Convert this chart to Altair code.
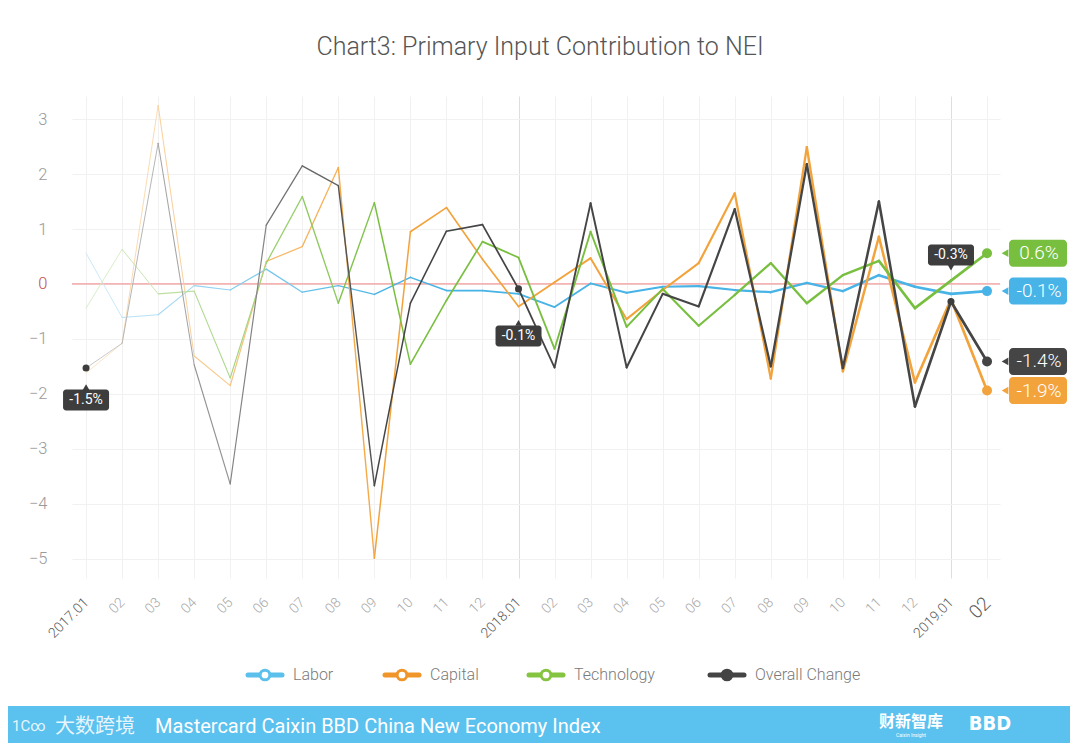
import altair as alt
import pandas as pd

# ---------------- data ----------------
tick_labels = ["2017.01", "02", "03", "04", "05", "06", "07", "08", "09", "10", "11", "12",
               "2018.01", "02", "03", "04", "05", "06", "07", "08", "09", "10", "11", "12",
               "2019.01", "02"]
series_names = ["Labor", "Capital", "Technology", "Overall Change"]
labor = [0.56, -0.61, -0.56, -0.03, -0.11, 0.27, -0.15, -0.03, -0.19, 0.12, -0.12, -0.12, -0.18,
         -0.42, 0.01, -0.16, -0.05, -0.04, -0.11, -0.15, 0.02, -0.13, 0.16, -0.05, -0.18, -0.13]
capital = [-1.62, -1.08, 3.25, -1.31, -1.85, 0.41, 0.68, 2.12, -4.99, 0.95, 1.39, 0.45, -0.41,
           0.03, 0.47, -0.64, -0.11, 0.38, 1.65, -1.72, 2.49, -1.59, 0.86, -1.79, -0.28, -1.94]
technology = [-0.44, 0.63, -0.18, -0.13, -1.71, 0.38, 1.59, -0.35, 1.48, -1.46, -0.30, 0.77, 0.48,
              -1.18, 0.95, -0.78, -0.09, -0.76, -0.20, 0.38, -0.35, 0.16, 0.42, -0.44, 0.06, 0.56]
overall = [-1.53, -1.08, 2.56, -1.47, -3.64, 1.07, 2.15, 1.79, -3.67, -0.35, 0.96, 1.08, -0.09,
           -1.52, 1.47, -1.52, -0.18, -0.41, 1.36, -1.50, 2.18, -1.53, 1.50, -2.23, -0.32, -1.41]
annotated_idx = [0, 12, 24]

# ---------------- styles ----------------
line_colors = ["#47b3e6", "#f3a33b", "#78bf3f", "#454545"]
legend_colors = ["#5bc0eb", "#f0952a", "#84c441", "#444444"]
values_by_series = [labor, capital, technology, overall]
FONT = "Roboto"


def mix(hexc, t):
    r, g, b = int(hexc[1:3], 16), int(hexc[3:5], 16), int(hexc[5:7], 16)
    return "#%02x%02x%02x" % tuple(int(round(255 - (255 - c) * t)) for c in (r, g, b))


n = len(tick_labels)
seg_rows = []
for name, col, vals in zip(series_names, line_colors, values_by_series):
    for i in range(n - 1):
        t = min(1.0, 0.32 + 0.085 * i)
        seg_rows.append({"series": name, "x": i, "x2": i + 1, "y": vals[i], "y2": vals[i + 1],
                         "c": mix(col, t), "w": 0.9 + 1.8 * i / (n - 2)})
seg_df = pd.DataFrame(seg_rows)

end_df = pd.DataFrame({
    "series": series_names,
    "x": [n - 1] * 4,
    "y": [v[-1] for v in values_by_series],
    "c": line_colors,
})
end_df["label"] = end_df["y"].map(lambda v: f"{v:.1f}%")

xscale = alt.Scale(domain=[-0.39, 25.36], nice=False, zero=False)
yscale = alt.Scale(domain=[-5.35, 3.42], nice=False, zero=False)

labels_js = "[" + ",".join("'%s'" % s for s in tick_labels) + "]"
x_axis = alt.Axis(
    values=list(range(n)), labelExpr=labels_js + "[datum.value]",
    labelAngle=-45, labelAlign="right", labelBaseline="middle", labelPadding=22,
    labelFont=FONT, labelFontWeight=300,
    labelFontSize={"condition": {"test": "datum.value == 25", "value": 19}, "value": 14},
    labelColor={"condition": {"test": "datum.value % 12 == 0 || datum.value == 25", "value": "#5a5a5a"},
                "value": "#a8a8a8"},
    grid=True,
    gridColor={"condition": {"test": "datum.value == 12 || datum.value == 24", "value": "#dedede"},
               "value": "#f1f1f1"},
    ticks=False, domain=False, title=None, labelOverlap=False, labelFlush=False,
)
y_axis = alt.Axis(
    values=[-5, -4, -3, -2, -1, 0, 1, 2, 3], labelFont=FONT, labelFontSize=16.5, labelFontWeight=300,
    labelColor={"condition": {"test": "datum.value == 0", "value": "#c0504d"}, "value": "#9a9a9a"},
    labelPadding=25, grid=True, gridColor="#f1f1f1", ticks=False, domain=False, title=None,
)


def X(f="x"):
    return alt.X(f"{f}:Q", scale=xscale, axis=x_axis)


def Y(f="y"):
    return alt.Y(f"{f}:Q", scale=yscale, axis=y_axis)


one = alt.Data(values=[{}])
layers = []

# zero line
layers.append(alt.Chart(one).mark_rule(color="#f39a9a", strokeWidth=1.3).encode(
    y=alt.YDatum(0, scale=yscale, axis=y_axis)))

# fading line segments
layers.append(alt.Chart(seg_df).mark_rule(strokeCap="round").encode(
    x=X("x"), x2="x2", y=Y("y"), y2="y2",
    color=alt.Color("c:N", scale=None), size=alt.Size("w:Q", scale=None)))

# annotated overall points with tooltips
ann_df = pd.DataFrame({"x": annotated_idx, "y": [overall[i] for i in annotated_idx]})
ann_df["label"] = ann_df["y"].map(lambda v: f"{v:.1f}%")
box_off = [32, 47, -46.5]
ptr_off = [19, 34, -34]
ptr_shape = ["triangle-up", "triangle-up", "triangle-down"]
for k in range(len(annotated_idx)):
    d = ann_df.iloc[[k]]
    layers.append(alt.Chart(d).mark_point(shape=ptr_shape[k], filled=True, size=45, color="#3d3d3d",
                                          opacity=1, yOffset=ptr_off[k]).encode(x=X(), y=Y()))
    layers.append(alt.Chart(d).mark_rect(width=46, height=21, cornerRadius=3, color="#3d3d3d",
                                         yOffset=box_off[k]).encode(x=X(), y=Y()))
    layers.append(alt.Chart(d).mark_text(font=FONT, fontSize=14, color="white",
                                         yOffset=box_off[k]).encode(x=X(), y=Y(), text="label:N"))
layers.append(alt.Chart(ann_df).mark_point(filled=True, size=50, color="#3d3d3d", opacity=1).encode(
    x=X(), y=Y()))

# end points and end labels
layers.append(alt.Chart(end_df).mark_point(filled=True, size=100, opacity=1).encode(
    x=X(), y=Y(), color=alt.Color("c:N", scale=None)))
layers.append(alt.Chart(end_df).mark_point(shape="triangle-left", filled=True, size=60, opacity=1,
                                           xOffset=18).encode(x=X(), y=Y(), color=alt.Color("c:N", scale=None)))
layers.append(alt.Chart(end_df).mark_rect(width=58, height=27, cornerRadius=4, xOffset=51).encode(
    x=X(), y=Y(), color=alt.Color("c:N", scale=None)))
layers.append(alt.Chart(end_df).mark_text(font=FONT, fontSize=19, fontWeight=300, color="white",
                                          xOffset=52).encode(x=X(), y=Y(), text="label:N"))

# title
layers.append(alt.Chart(one).mark_text(font=FONT, fontSize=25, fontWeight=300, color="#555555",
                                       align="center", baseline="middle").encode(
    x=alt.value(468), y=alt.value(-49), text=alt.value("Chart3: Primary Input Contribution to NEI")))

# legend
legend_cx = [193, 330, 474, 655]
legend_y = 579
for name, col, cx in zip(series_names, legend_colors, legend_cx):
    layers.append(alt.Chart(one).mark_rule(color=col, strokeWidth=5, strokeCap="round").encode(
        x=alt.value(cx - 17), x2=alt.value(cx + 17), y=alt.value(legend_y)))
    fill = col if name == "Overall Change" else "white"
    layers.append(alt.Chart(one).mark_point(shape="circle", filled=True, fill=fill, stroke=col,
                                            strokeWidth=3, size=95, opacity=1).encode(
        x=alt.value(cx), y=alt.value(legend_y)))
    layers.append(alt.Chart(one).mark_text(font=FONT, fontSize=16, fontWeight=300, color="#7a7a7a",
                                           align="left", baseline="middle").encode(
        x=alt.value(cx + 28), y=alt.value(legend_y), text=alt.value(name)))

# footer bar
layers.append(alt.Chart(one).mark_rect(color="#5bc1ee").encode(
    x=alt.value(-64), x2=alt.value(1000), y=alt.value(610), y2=alt.value(670)))
layers.append(alt.Chart(one).mark_text(font=FONT, fontSize=20, color="white", align="left",
                                       baseline="middle").encode(
    x=alt.value(83), y=alt.value(631), text=alt.value("Mastercard Caixin BBD China New Economy Index")))
layers.append(alt.Chart(one).mark_text(font="Noto Sans CJK SC", fontSize=20, color="white", opacity=0.85,
                                       align="left", baseline="middle").encode(
    x=alt.value(-17), y=alt.value(631), text=alt.value("大数跨境")))
layers.append(alt.Chart(one).mark_text(font=FONT, fontSize=15, color="white", opacity=0.85,
                                       align="left", baseline="middle").encode(
    x=alt.value(-60), y=alt.value(630), text=alt.value("1C∞")))
layers.append(alt.Chart(one).mark_text(font="Noto Sans CJK SC", fontSize=16, fontWeight="bold", color="white",
                                       align="center", baseline="middle").encode(
    x=alt.value(839), y=alt.value(626), text=alt.value("财新智库")))
layers.append(alt.Chart(one).mark_text(font=FONT, fontSize=5, color="white",
                                       align="center", baseline="middle").encode(
    x=alt.value(839), y=alt.value(639), text=alt.value("Caixin Insight")))
layers.append(alt.Chart(one).mark_text(font="DejaVu Sans Condensed", fontSize=20, fontWeight="bold",
                                       color="white", align="center", baseline="middle").encode(
    x=alt.value(918), y=alt.value(628), text=alt.value("BBD")))

chart = alt.layer(*layers).properties(
    width=928, height=482,
    autosize=alt.AutoSizeParams(type="none"),
    padding={"left": 64, "top": 88, "right": 70, "bottom": 165},
    background="white",
).configure_view(stroke=None)

chart.save("out.html", embed_options={"renderer": "svg", "actions": False})
